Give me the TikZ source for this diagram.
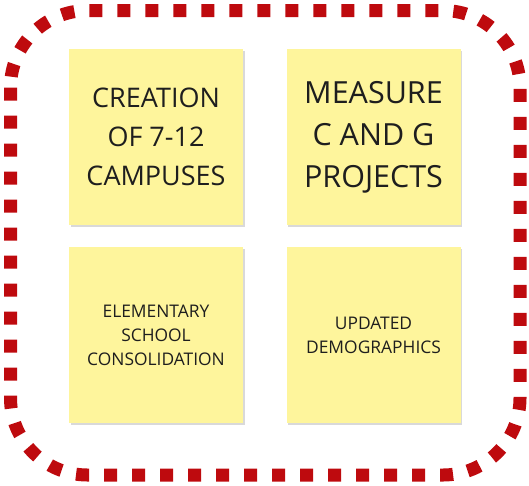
\documentclass[tikz,border=0pt]{standalone}
\usepackage{fontspec}
\setmainfont{Open Sans}
\usepackage{xcolor}
\usepackage{tikz}
\usetikzlibrary{shadows}

\definecolor{framered}{RGB}{190,10,14}
\definecolor{notefill}{RGB}{254,245,156}
\definecolor{notetext}{RGB}{30,30,30}

\begin{document}
\begin{tikzpicture}[x=1pt, y=-1pt,
  frame/.style   ={draw=framered, line width=13pt, rounded corners=77pt,
                   dash pattern=on 13pt off 15pt},
  note/.style    ={fill=notefill, rectangle, minimum width=174pt,
                   minimum height=176pt, inner sep=0pt, align=center,
                   text=notetext,
                   drop shadow={shadow xshift=1.5pt, shadow yshift=-2pt,
                                opacity=0.25, fill=black!60}},
  bigtext/.style ={font=\fontsize{30.5}{42}\selectfont},
  midtext/.style ={font=\fontsize{27}{39}\selectfont},
  smalltext/.style={font=\fontsize{17.4}{24}\selectfont}
]
\useasboundingbox (0,0) rectangle (529,485);

%% ── Frame ─────────────────────────────────────────────────────────
\draw[frame] (10.5,10.5) rectangle (520,475);

%% ── Top row ───────────────────────────────────────────────────────
\node[note, midtext] (campus)  at (156,137)   {CREATION\\OF 7-12\\CAMPUSES};
\node[note, bigtext] (measure) at (373.5,137) {MEASURE\\C AND G\\PROJECTS};

%% ── Bottom row ────────────────────────────────────────────────────
\node[note, smalltext] (elem)  at (156,335)   {ELEMENTARY\\SCHOOL\\CONSOLIDATION};
\node[note, smalltext] (demo)  at (373.5,335) {UPDATED\\DEMOGRAPHICS};

\end{tikzpicture}
\end{document}
